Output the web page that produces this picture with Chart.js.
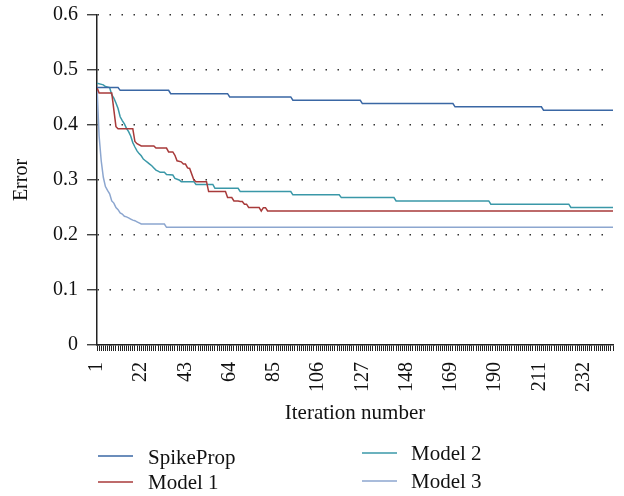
<!DOCTYPE html>
<html>
<head>
<meta charset="utf-8">
<script src="https://cdn.jsdelivr.net/npm/chart.js@4/dist/chart.umd.min.js"></script>
<style>
  html, body { margin: 0; padding: 0; background: #ffffff; }
  #wrap { width: 624px; height: 496px; position: relative; }
</style>
</head>
<body>
<div id="wrap"><canvas id="c" width="624" height="496"></canvas></div>
<script>
// ---- data: [iteration, error] breakpoints ----
const spikePropPoints = [
  [1,0.468],[11,0.468],[12,0.463],[35,0.463],[36,0.457],[63,0.457],[64,0.451],[93,0.451],
  [94,0.445],[126,0.445],[127,0.439],[170,0.439],[171,0.433],[212,0.433],[213,0.427],[246,0.427]
];
const model1Points = [
  [1,0.468],[2,0.458],[8,0.458],[10,0.397],[11,0.393],[18,0.393],[19,0.370],[20,0.366],
  [22,0.362],[28,0.362],[29,0.358],[34,0.358],[35,0.351],[37,0.351],[38,0.345],[39,0.335],
  [41,0.333],[42,0.329],[43,0.329],[44,0.322],[45,0.321],[47,0.300],[48,0.297],[53,0.297],
  [54,0.279],[62,0.279],[63,0.268],[65,0.268],[66,0.262],[68,0.262],[69,0.261],[70,0.261],
  [71,0.256],[72,0.256],[73,0.250],[78,0.250],[79,0.2436],[80,0.2497],[81,0.2497],[82,0.2436],
  [246,0.2436]
];
const model2Points = [
  [1,0.476],[4,0.473],[5,0.470],[7,0.468],[8,0.455],[9,0.449],[10,0.440],[11,0.430],
  [12,0.415],[13,0.408],[14,0.402],[15,0.394],[16,0.388],[17,0.380],[18,0.368],[19,0.360],
  [20,0.353],[21,0.348],[22,0.344],[23,0.338],[24,0.335],[25,0.332],[26,0.329],[27,0.326],
  [28,0.322],[29,0.318],[30,0.316],[31,0.314],[33,0.314],[34,0.310],[37,0.309],[38,0.303],
  [40,0.300],[41,0.297],[47,0.297],[48,0.292],[56,0.292],[57,0.285],[68,0.285],[69,0.279],
  [93,0.279],[94,0.273],[116,0.273],[117,0.268],[142,0.268],[143,0.262],[187,0.262],
  [188,0.256],[225,0.256],[226,0.250],[246,0.250]
];
const model3Points = [
  [1,0.470],[2,0.380],[3,0.335],[4,0.305],[5,0.288],[6,0.281],[7,0.275],[8,0.262],
  [9,0.258],[10,0.250],[11,0.246],[12,0.240],[13,0.238],[14,0.234],[15,0.233],[16,0.231],
  [17,0.229],[18,0.227],[19,0.226],[20,0.224],[21,0.222],[22,0.220],[33,0.220],[34,0.214],
  [246,0.214]
];
const seriesNames = ['SpikeProp', 'Model 1', 'Model 2', 'Model 3'];
const xTickLabels = [1, 22, 43, 64, 85, 106, 127, 148, 169, 190, 211, 232];
const yTickLabels = ['0', '0.1', '0.2', '0.3', '0.4', '0.5', '0.6'];
const xFirst = 1, xLast = 246;

const colors = ['#3a67a4', '#a83a3a', '#3a98a8', '#8ca6cf'];
const FONT = '"Liberation Serif", "DejaVu Serif", serif';

const toXY = pts => pts.map(p => ({ x: p[0], y: p[1] }));
const allPoints = [spikePropPoints, model1Points, model2Points, model3Points];

const legendPlugin = {
  id: 'customLegend',
  afterDraw(chart) {
    const ctx = chart.ctx;
    const slots = [
      { line: [98, 133, 456], text: [148, 458] },
      { line: [98, 133, 482], text: [148, 483] },
      { line: [362, 397, 453], text: [411, 454] },
      { line: [362, 397, 481], text: [411, 482] }
    ];
    ctx.save();
    ctx.font = '21px ' + FONT;
    ctx.textBaseline = 'middle';
    ctx.textAlign = 'left';
    slots.forEach((s, i) => {
      ctx.strokeStyle = colors[i];
      ctx.lineWidth = 1.5;
      ctx.beginPath();
      ctx.moveTo(s.line[0], s.line[2]);
      ctx.lineTo(s.line[1], s.line[2]);
      ctx.stroke();
      ctx.fillStyle = '#111';
      ctx.fillText(seriesNames[i], s.text[0], s.text[1]);
    });
    ctx.restore();
  }
};

new Chart(document.getElementById('c'), {
  type: 'line',
  data: {
    datasets: allPoints.map((pts, i) => ({
      label: seriesNames[i],
      data: toXY(pts),
      borderColor: colors[i],
      backgroundColor: colors[i],
      borderWidth: 1.5,
      pointRadius: 0,
      tension: 0,
      fill: false
    }))
  },
  options: {
    responsive: false,
    animation: false,
    devicePixelRatio: 1,
    layout: { padding: { left: 4, right: 11, top: 15, bottom: 70 } },
    plugins: {
      legend: { display: false },
      tooltip: { enabled: false }
    },
    scales: {
      x: {
        type: 'linear',
        min: xFirst,
        max: xLast,
        afterFit: (scale) => { scale.paddingRight = 0; scale.paddingLeft = 0; scale.height = 81; },
        border: { display: true, color: '#222', width: 1.5 },
        grid: {
          display: true,
          drawOnChartArea: false,
          drawTicks: true,
          tickLength: 6,
          tickColor: '#222',
          tickWidth: 1
        },
        ticks: {
          stepSize: 1,
          autoSkip: false,
          maxRotation: 90,
          minRotation: 90,
          padding: 11,
          color: '#111',
          font: { family: FONT, size: 20 },
          callback: (v) => xTickLabels.includes(v) ? String(v) : ''
        },
        title: {
          display: true,
          text: 'Iteration number',
          color: '#111',
          font: { family: FONT, size: 21 },
          padding: { top: 0, bottom: 0 }
        }
      },
      y: {
        min: 0,
        max: 0.6,
        afterFit: (scale) => { scale.paddingTop = 0; scale.paddingBottom = 0; scale.width = 93; },
        border: { display: true, color: '#222', width: 1.5, dash: [1.5, 10.5] },
        grid: {
          display: true,
          color: '#333',
          lineWidth: 1.5,
          drawTicks: true,
          tickLength: 10,
          tickColor: '#222',
          tickWidth: 1.2,
          tickBorderDash: []
        },
        ticks: {
          stepSize: 0.1,
          padding: 9,
          color: '#111',
          font: { family: FONT, size: 20 },
          callback: (v, i) => yTickLabels[i]
        },
        title: {
          display: true,
          text: 'Error',
          color: '#111',
          font: { family: FONT, size: 20 },
          padding: { top: 6, bottom: 11 }
        }
      }
    }
  },
  plugins: [legendPlugin]
});
</script>
</body>
</html>
